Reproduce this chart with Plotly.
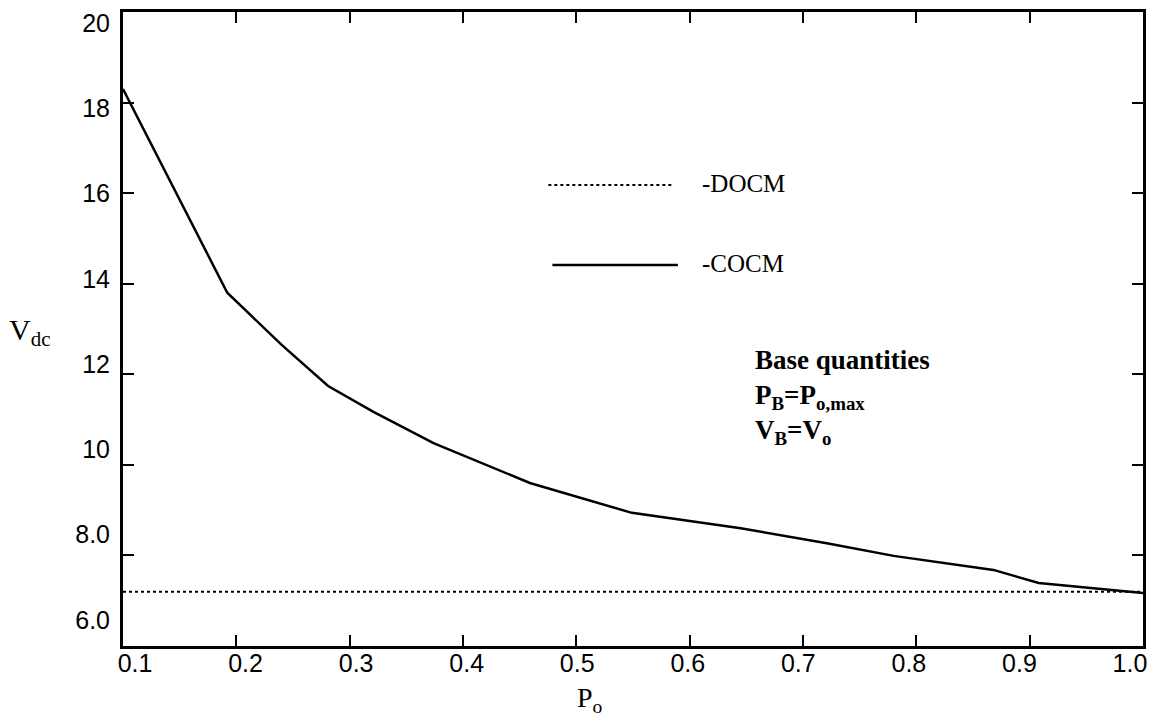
import plotly.graph_objects as go

# ---- data ----
p_o = [0.100, 0.192, 0.240, 0.281, 0.321, 0.374, 0.459, 0.549, 0.645, 0.721, 0.780, 0.868, 0.908, 0.974, 1.000]
v_cocm = [18.3, 13.8, 12.65, 11.74, 11.17, 10.48, 9.60, 8.94, 8.60, 8.27, 7.99, 7.68, 7.39, 7.24, 7.17]
p_docm = [0.10, 1.00]
v_docm = [7.2, 7.2]

x_ticks = [0.1, 0.2, 0.3, 0.4, 0.5, 0.6, 0.7, 0.8, 0.9, 1.0]
x_ticktext = ["0.1", "0.2", "0.3", "0.4", "0.5", "0.6", "0.7", "0.8", "0.9", "1.0"]
y_ticks = [6, 8, 10, 12, 14, 16, 18, 20]
y_ticktext = ["6.0", "8.0", "10", "12", "14", "16", "18", "20"]

SANS = "Liberation Sans, Arial, Helvetica, sans-serif"
SERIF = "Liberation Serif, Times New Roman, serif"

fig = go.Figure()
fig.add_trace(go.Scatter(x=p_docm, y=v_docm, mode="lines",
                         line=dict(color="black", width=2, dash="dot"),
                         name="-DOCM", showlegend=False))
fig.add_trace(go.Scatter(x=p_o, y=v_cocm, mode="lines",
                         line=dict(color="black", width=2.5),
                         name="-COCM", showlegend=False))
# empty trace so the label-only overlay axes (scanned, slightly offset labels) are drawn
fig.add_trace(go.Scatter(x=[], y=[], xaxis="x2", yaxis="y2", showlegend=False, hoverinfo="skip"))

# legend keys drawn manually (long sample lines as in the original)
fig.add_shape(type="line", xref="paper", yref="paper", x0=0.417, x1=0.540, y0=0.727, y1=0.727,
              line=dict(color="black", width=2, dash="dot"))
fig.add_shape(type="line", xref="paper", yref="paper", x0=0.421, x1=0.544, y0=0.601, y1=0.601,
              line=dict(color="black", width=2.5))
fig.add_annotation(xref="paper", yref="paper", x=0.566, y=0.729, text="-DOCM", showarrow=False,
                   xanchor="left", yanchor="middle", font=dict(family=SERIF, size=25, color="black"))
fig.add_annotation(xref="paper", yref="paper", x=0.566, y=0.603, text="-COCM", showarrow=False,
                   xanchor="left", yanchor="middle", font=dict(family=SERIF, size=25, color="black"))

fig.add_annotation(xref="paper", yref="paper", x=0.618, y=0.392, showarrow=False, align="left",
                   xanchor="left", yanchor="middle",
                   text="<b>Base quantities<br>P<sub>B</sub>=P<sub>o,max</sub><br>V<sub>B</sub>=V<sub>o</sub></b>",
                   font=dict(family=SERIF, size=27, color="black"))

fig.add_annotation(xref="paper", yref="paper", x=-0.114, y=0.495, text="V<sub>dc</sub>", showarrow=False,
                   xanchor="left", yanchor="middle", font=dict(family=SERIF, size=30, color="black"))
fig.add_annotation(xref="paper", yref="paper", x=0.458, y=-0.084, text="P<sub>o</sub>", showarrow=False,
                   xanchor="center", yanchor="middle", font=dict(family=SERIF, size=28, color="black"))

mark_axis = dict(showline=True, linecolor="black", linewidth=3, mirror="ticks",
                 ticks="inside", ticklen=11, tickwidth=2, tickcolor="black",
                 showgrid=False, zeroline=False, showticklabels=False, automargin=False)
label_axis = dict(showline=False, ticks="", showgrid=False, zeroline=False, automargin=False,
                  tickfont=dict(family=SANS, size=25, color="black"))

fig.update_layout(
    width=1162, height=722, plot_bgcolor="white", paper_bgcolor="white",
    margin=dict(l=123, r=19, t=12, b=76), showlegend=False,
    xaxis=dict(range=[0.1, 1.0], tickvals=x_ticks, **mark_axis),
    yaxis=dict(range=[6, 20], tickvals=y_ticks, **mark_axis),
    xaxis2=dict(range=[0.0891, 1.0118], tickvals=x_ticks, ticktext=x_ticktext,
                overlaying="x", side="bottom", anchor="y2", **label_axis),
    yaxis2=dict(range=[5.39, 20.26], tickvals=y_ticks, ticktext=y_ticktext,
                overlaying="y", side="left", anchor="x2", ticklabelstandoff=12, **label_axis),
)

fig.write_html("out.html", config={"displayModeBar": False},
               post_script="document.body.style.margin='0';document.body.style.overflow='hidden';")
